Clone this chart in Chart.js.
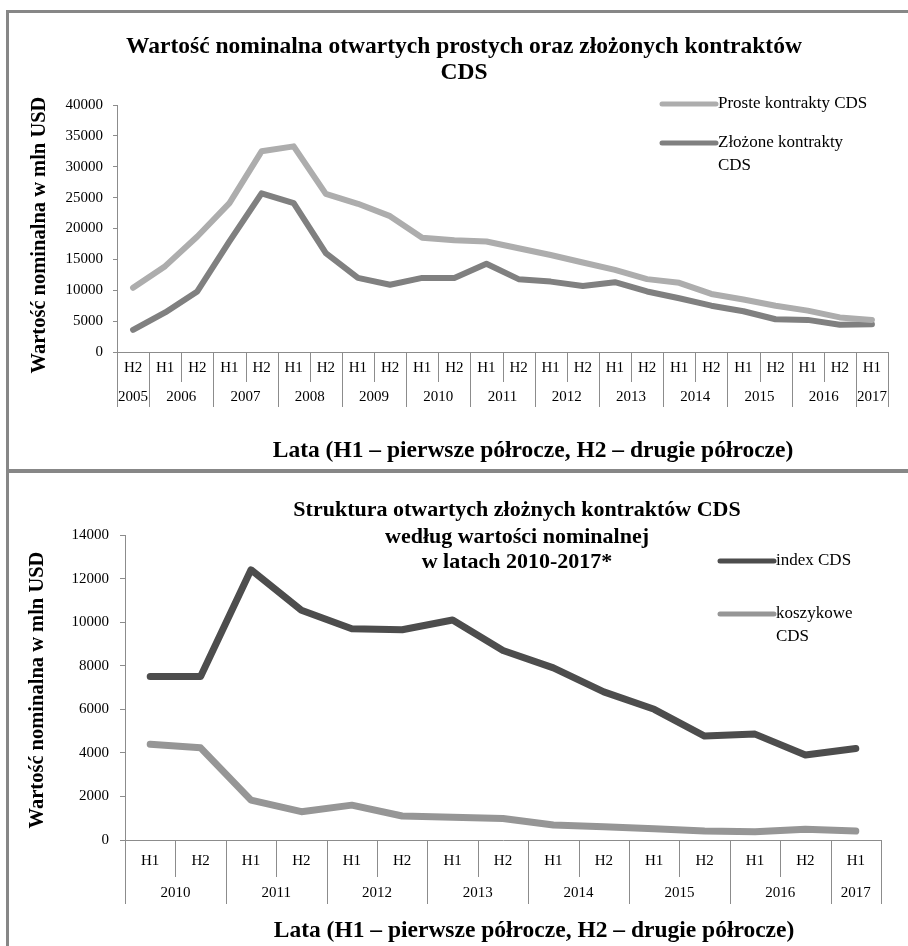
<!DOCTYPE html>
<html><head><meta charset="utf-8">
<script src="https://cdn.jsdelivr.net/npm/chart.js@4"></script>
<style>
html,body{margin:0;padding:0;background:#fff;}
body{width:908px;height:946px;position:relative;overflow:hidden;}
#c1{position:absolute;left:0;top:0;}
#c2{position:absolute;left:0;top:473px;}
.b{position:absolute;background:#878787;}
</style></head><body>
<canvas id="c1" width="908" height="468"></canvas>
<canvas id="c2" width="908" height="473"></canvas>
<div class="b" style="left:6px;top:10px;width:902px;height:3px"></div>
<div class="b" style="left:6px;top:10px;width:3px;height:936px"></div>
<div class="b" style="left:6px;top:469px;width:902px;height:4px"></div>
<script>
// ---------- DATA: chart 1 ----------
const topHalves = ['H2','H1','H2','H1','H2','H1','H2','H1','H2','H1','H2','H1','H2','H1','H2','H1','H2','H1','H2','H1','H2','H1','H2','H1'];
const topYears = ['2005','2006','2007','2008','2009','2010','2011','2012','2013','2014','2015','2016','2017'];
const topYearSpans = [1,2,2,2,2,2,2,2,2,2,2,2,1];
const prosteCDS = [10400,13900,18700,24100,32500,33300,25600,24000,22000,18500,18100,17900,16800,15700,14500,13300,11800,11200,9400,8500,7500,6700,5600,5200];
const zlozoneCDS = [3600,6400,9800,17900,25700,24100,16000,12000,10900,12000,12000,14300,11800,11400,10700,11300,9800,8700,7500,6600,5300,5200,4400,4500];
const topYTicks = [0,5000,10000,15000,20000,25000,30000,35000,40000];
const topTitle = ['Wartość nominalna otwartych prostych oraz złożonych kontraktów','CDS'];
const topLegend = [['Proste kontrakty CDS'],['Złożone kontrakty','CDS']];

// ---------- DATA: chart 2 ----------
const botHalves = ['H1','H2','H1','H2','H1','H2','H1','H2','H1','H2','H1','H2','H1','H2','H1'];
const botYears = ['2010','2011','2012','2013','2014','2015','2016','2017'];
const botYearSpans = [2,2,2,2,2,2,2,1];
const indexCDS = [7500,7500,12400,10550,9700,9650,10100,8700,7900,6800,6000,4770,4860,3900,4200];
const koszykoweCDS = [4390,4230,1830,1300,1600,1100,1040,990,690,610,520,410,380,490,410];
const botYTicks = [0,2000,4000,6000,8000,10000,12000,14000];
const botTitle = ['Struktura otwartych złożnych kontraktów CDS','według wartości nominalnej','w latach 2010-2017*'];
const botLegend = [['index CDS'],['koszykowe','CDS']];

const xTitleText = 'Lata (H1 – pierwsze półrocze, H2 – drugie półrocze)';
const yTitleText = 'Wartość nominalna w mln USD';

const SERIF = "'Liberation Serif','Times New Roman',serif";
const AXIS = '#8c8c8c';

const decoPlugin = {
  id: 'deco',
  afterDraw(chart, args, o) {
    const ctx = chart.ctx, xs = chart.scales.x;
    ctx.save();
    const n = chart.data.labels.length;
    const bounds = new Set([0]); let acc = 0;
    o.yearSpans.forEach(s => { acc += s; bounds.add(acc); });
    const axisY = Math.round(xs.top);
    ctx.strokeStyle = AXIS; ctx.lineWidth = 1;
    for (let k = 0; k <= n; k++) {
      const x = Math.round(xs.getPixelForValue(k - 0.5)) + 0.5;
      const yb = bounds.has(k) ? o.yearSepBottom : o.halfSepBottom;
      ctx.beginPath(); ctx.moveTo(x, axisY); ctx.lineTo(x, yb); ctx.stroke();
    }
    ctx.fillStyle = '#000'; ctx.textAlign = 'center'; ctx.textBaseline = 'middle';
    ctx.font = '15px ' + SERIF;
    acc = 0;
    o.years.forEach((yr, i) => {
      const s = o.yearSpans[i];
      const x = (xs.getPixelForValue(acc - 0.5) + xs.getPixelForValue(acc + s - 0.5)) / 2;
      ctx.fillText(yr, x, o.yearY);
      acc += s;
    });
    ctx.font = 'bold ' + o.titleSize + 'px ' + SERIF;
    o.title.forEach((t, i) => ctx.fillText(t, o.titleX, o.titleY[i]));
    ctx.font = 'bold 23.5px ' + SERIF;
    ctx.fillText(xTitleText, o.xTitleX, o.xTitleY);
    ctx.save();
    ctx.translate(o.yTitleX, o.yTitleY); ctx.rotate(-Math.PI / 2);
    ctx.font = 'bold 20.5px ' + SERIF;
    ctx.fillText(yTitleText, 0, 0);
    ctx.restore();
    ctx.textAlign = 'left'; ctx.font = '17px ' + SERIF; ctx.lineCap = 'round';
    chart.data.datasets.forEach((ds, i) => {
      const L = o.legend[i];
      ctx.strokeStyle = ds.borderColor; ctx.lineWidth = 5;
      ctx.beginPath(); ctx.moveTo(o.legX1, L.y); ctx.lineTo(o.legX2, L.y); ctx.stroke();
      ctx.fillStyle = '#000';
      L.lines.forEach((t, j) => ctx.fillText(t, o.legX2 + 2, L.y + j * 23));
    });
    ctx.restore();
  }
};

function makeChart(id, cfg) {
  return new Chart(document.getElementById(id), {
    type: 'line',
    data: {
      labels: cfg.labels,
      datasets: cfg.series.map(s => ({
        label: s.label, data: s.data, borderColor: s.color, backgroundColor: s.color,
        borderWidth: cfg.lineWidth, pointRadius: 0, tension: 0,
        borderCapStyle: 'round', borderJoinStyle: 'round', fill: false
      }))
    },
    options: {
      responsive: false, animation: false,
      layout: { padding: { top: cfg.padTop, right: cfg.padRight, bottom: 0, left: 0 } },
      plugins: { legend: { display: false }, tooltip: { enabled: false }, deco: cfg.deco },
      scales: {
        x: {
          type: 'category', offset: true,
          grid: { display: false, drawTicks: false },
          border: { display: true, color: AXIS, width: 1 },
          ticks: { autoSkip: false, maxRotation: 0, padding: cfg.xTickPad, color: '#000', font: { family: SERIF, size: 15 } },
          afterFit: s => { s.height = cfg.xHeight; }
        },
        y: {
          min: cfg.yTicks[0], max: cfg.yTicks[cfg.yTicks.length - 1],
          afterBuildTicks: s => { s.ticks = cfg.yTicks.map(v => ({ value: v })); },
          grid: { drawOnChartArea: false, drawTicks: true, tickLength: cfg.yTickLen, color: AXIS },
          border: { display: true, color: AXIS, width: 1 },
          ticks: { padding: cfg.yTickPad, color: '#000', font: { family: SERIF, size: 15 }, callback: v => String(v) },
          afterFit: s => { s.width = cfg.yWidth; }
        }
      }
    },
    plugins: [decoPlugin]
  });
}

makeChart('c1', {
  labels: topHalves,
  series: [
    { label: topLegend[0].join(' '), data: prosteCDS, color: '#adadad' },
    { label: topLegend[1].join(' '), data: zlozoneCDS, color: '#808080' }
  ],
  lineWidth: 6, padTop: 105, padRight: 20, xHeight: 116, yWidth: 117,
  yTicks: topYTicks, yTickLen: 4, yTickPad: 10, xTickPad: 7,
  deco: {
    years: topYears, yearSpans: topYearSpans,
    halfSepBottom: 382, yearSepBottom: 407, yearY: 397,
    title: topTitle, titleSize: 23.5, titleX: 464, titleY: [47, 73],
    xTitleX: 533, xTitleY: 451, yTitleX: 40, yTitleY: 235,
    legX1: 662, legX2: 716,
    legend: [{ y: 104, lines: topLegend[0] }, { y: 143, lines: topLegend[1] }]
  }
});

makeChart('c2', {
  labels: botHalves,
  series: [
    { label: botLegend[0].join(' '), data: indexCDS, color: '#4d4d4d' },
    { label: botLegend[1].join(' '), data: koszykoweCDS, color: '#969696' }
  ],
  lineWidth: 7, padTop: 62, padRight: 27, xHeight: 106, yWidth: 125,
  yTicks: botYTicks, yTickLen: 5, yTickPad: 11, xTickPad: 12,
  deco: {
    years: botYears, yearSpans: botYearSpans,
    halfSepBottom: 404, yearSepBottom: 431, yearY: 420,
    title: botTitle, titleSize: 22, titleX: 517, titleY: [37, 64, 89],
    xTitleX: 534, xTitleY: 458, yTitleX: 38, yTitleY: 217,
    legX1: 720, legX2: 774,
    legend: [{ y: 88, lines: botLegend[0] }, { y: 141, lines: botLegend[1] }]
  }
});
</script>
</body></html>
